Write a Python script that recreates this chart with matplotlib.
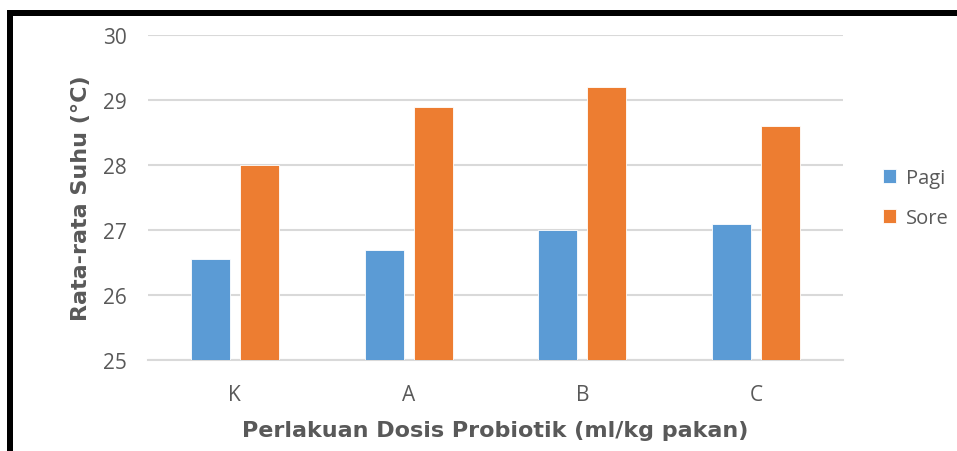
import matplotlib
matplotlib.use("Agg")
import matplotlib.pyplot as plt
from matplotlib.patches import Rectangle
import numpy as np

categories = ["K", "A", "B", "C"]
pagi = [26.55, 26.7, 27.0, 27.1]
sore = [28.0, 28.9, 29.2, 28.6]
series_names = ["Pagi", "Sore"]
yticks = [25, 26, 27, 28, 29, 30]

W, H = 957, 452
fig = plt.figure(figsize=(W/100, H/100), dpi=100)
fig.patch.set_facecolor("white")

ax = fig.add_axes([148/W, 1-361/H, (843-148)/W, (361-36)/H])
x = np.arange(len(categories))
bw = 0.224
gap = 0.058
off = (bw + gap) / 2
b1 = ax.bar(x - off, [v - 25 for v in pagi], bw, bottom=25, color="#5B9BD5",
            edgecolor="white", linewidth=0.6, label=series_names[0], zorder=3)
b2 = ax.bar(x + off, [v - 25 for v in sore], bw, bottom=25, color="#ED7D31",
            edgecolor="white", linewidth=0.6, label=series_names[1], zorder=3)

ax.set_xlim(-0.5, len(categories) - 0.5)
ax.set_ylim(25, 30)
ax.set_yticks(yticks)
ax.set_xticks(x)
ax.set_xticklabels(categories)
for s in ["top", "right", "left"]:
    ax.spines[s].set_visible(False)
ax.spines["bottom"].set_color("#d9d9d9")
ax.spines["bottom"].set_linewidth(1.5)
ax.grid(axis="y", color="#d9d9d9", linewidth=1.5, zorder=0)
ax.tick_params(axis="both", length=0, colors="#595959", labelsize=15)
ax.tick_params(axis="y", pad=15)
ax.tick_params(axis="x", pad=17)
for lab in ax.get_xticklabels() + ax.get_yticklabels():
    lab.set_fontfamily("Open Sans")

ax.set_xlabel("Perlakuan Dosis Probiotik (ml/kg pakan)", fontfamily="DejaVu Sans",
              fontweight="bold", fontsize=16, color="#595959", labelpad=11)
ax.set_ylabel("Rata-rata Suhu (°C)", fontfamily="DejaVu Sans",
              fontweight="bold", fontsize=16, color="#595959", labelpad=9)

leg = fig.legend(handles=[b1, b2], loc="center left", bbox_to_anchor=(883/W, 1-199/H),
                 frameon=False, prop={"family": "Open Sans", "size": 14.5},
                 borderpad=0, borderaxespad=0,
                 handlelength=0.65, handleheight=0.65, handletextpad=0.5,
                 labelspacing=1.0, labelcolor="#595959")

# black frame (cropped on right and bottom)
fig.add_artist(Rectangle((10/W, -0.1), 1.2, 1.1 - 14/H, transform=fig.transFigure,
                         fill=False, edgecolor="black", linewidth=6*72/100))

fig.savefig("out.png", dpi=100)
